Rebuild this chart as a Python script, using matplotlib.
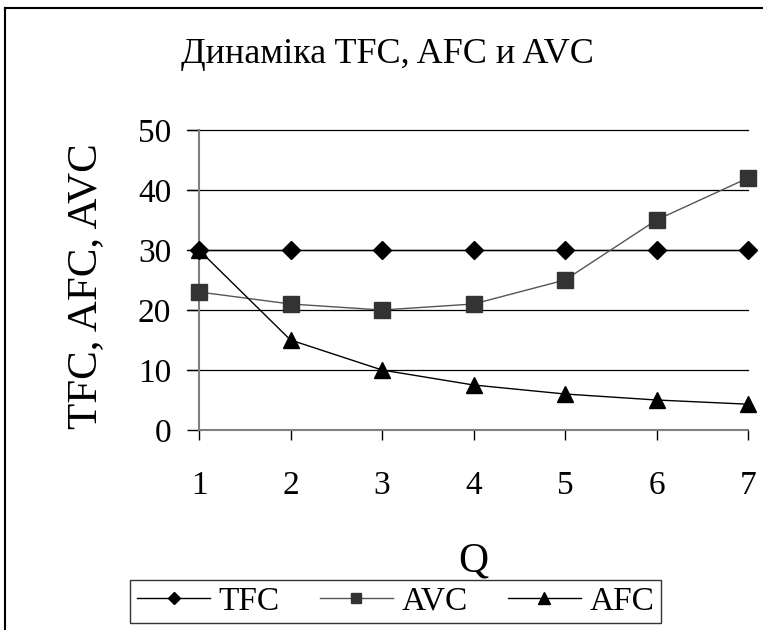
import matplotlib
matplotlib.use("Agg")
import matplotlib.pyplot as plt
from matplotlib.lines import Line2D

q = [1, 2, 3, 4, 5, 6, 7]
tfc = [30, 30, 30, 30, 30, 30, 30]
avc = [23, 21, 20, 21, 25, 35, 42]
afc = [30, 15, 10, 7.5, 6, 5, 4.3]
y_ticks = [0, 10, 20, 30, 40, 50]

plt.rcParams['font.family'] = ['Liberation Serif', 'DejaVu Serif']

W, H = 763, 630
fig = plt.figure(figsize=(W/100, H/100), dpi=100)
ax = fig.add_axes([199/W, 1-430/H, (748-199)/W, 300/H])

for y in y_ticks[1:]:
    ax.axhline(y, color='black', lw=0.9, zorder=1, xmin=-12/549, clip_on=False)

ax.plot(q, tfc, color='black', lw=1.0, marker='D', ms=9, mfc='black', mec='black', zorder=3, label='TFC', clip_on=False)
ax.plot(q, avc, color='#555555', lw=1.0, marker='s', ms=11, mfc='#333333', mec='#333333', zorder=3, label='AVC', clip_on=False)
ax.plot(q, afc, color='black', lw=1.0, marker='^', ms=11, mfc='black', mec='black', zorder=4, label='AFC', clip_on=False)

ax.set_xlim(1, 7)
ax.set_ylim(0, 50)
ax.set_xticks(q)
ax.set_yticks(y_ticks)
for s in ['top', 'right']:
    ax.spines[s].set_visible(False)
ax.spines['left'].set_color('#808080')
ax.spines['bottom'].set_color('#808080')
ax.spines['left'].set_linewidth(1.5)
ax.spines['bottom'].set_linewidth(1.5)
ax.tick_params(axis='y', length=9, width=1, color='black', pad=11, labelsize=24)
ax.tick_params(axis='x', length=7, width=1, color='black', pad=22, labelsize=24)

fig.text(86/W, 1-286/H, 'TFC, AFC, AVC', rotation=90, ha='center', va='center', fontsize=31)
fig.text(473/W, 1-571/H, 'Q', ha='center', va='baseline', fontsize=30)
fig.text(387/W, 1-63/H, 'Динаміка TFC, AFC и AVC', ha='center', va='baseline', fontsize=26)

leg = ax.legend(loc='center', bbox_to_anchor=(395.5/W, 1-601.5/H), bbox_transform=fig.transFigure,
                ncol=3, fontsize=24, frameon=True, fancybox=False, edgecolor='black',
                handlelength=2.2, handletextpad=0.25, columnspacing=1.2, borderpad=0.2,
                borderaxespad=0)
leg.get_frame().set_linewidth(1.0)
for h, ms in zip(leg.legend_handles, [6.5, 7.5, 8]):
    h.set_markersize(ms)

fig.add_artist(Line2D([5/W, 5/W], [0, 1-8/H], transform=fig.transFigure, color='black', lw=1.5))
fig.add_artist(Line2D([5/W, 1], [1-8/H, 1-8/H], transform=fig.transFigure, color='black', lw=1.5))

fig.savefig('out.png', dpi=100)
